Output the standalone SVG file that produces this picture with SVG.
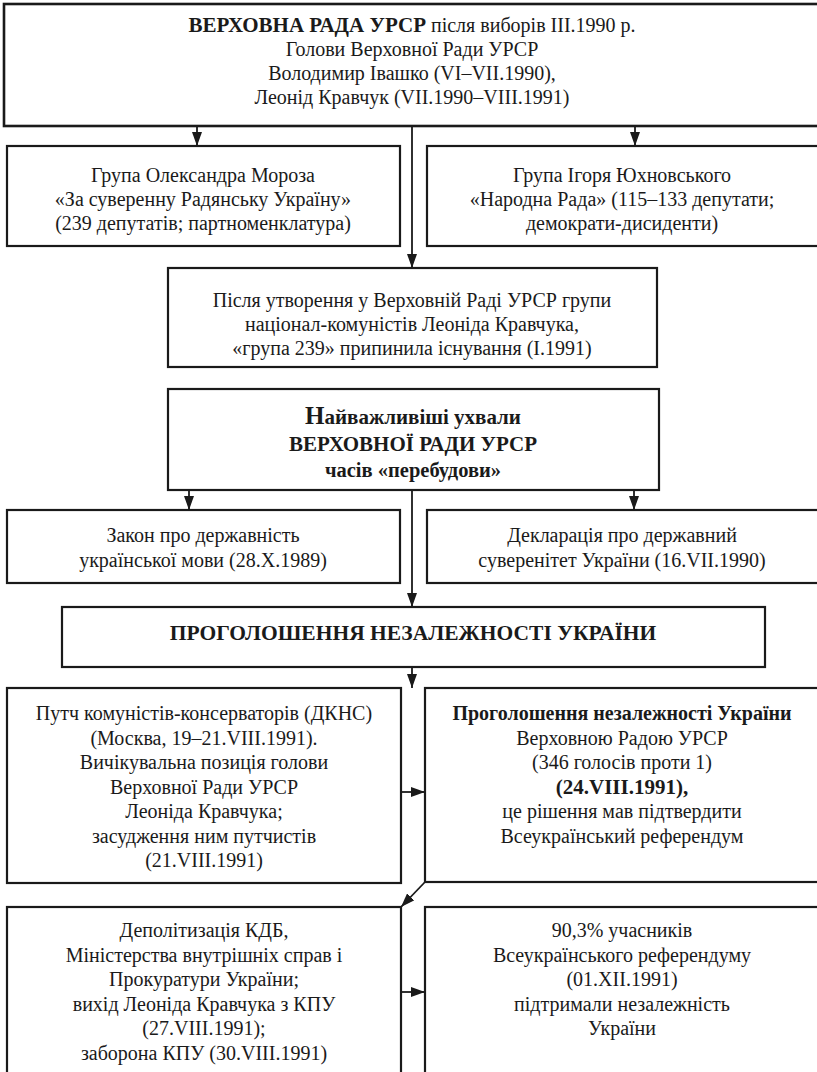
<svg xmlns="http://www.w3.org/2000/svg" width="817" height="1072" viewBox="0 0 817 1072">
<defs>
<style>
.box{fill:#fff;stroke:#1a1a1a;stroke-width:2.2}
.t{font-family:"Liberation Serif","Times New Roman",serif;font-size:20px;fill:#1a1a1a;text-anchor:middle}
.b{font-weight:bold}
.c{stroke:#1a1a1a;stroke-width:1.8;fill:none}
</style>
<marker id="ah" markerUnits="userSpaceOnUse" markerWidth="14" markerHeight="10" refX="14" refY="5" orient="auto">
<path d="M0,0 L14,5 L0,10 z" fill="#1a1a1a"/>
</marker>
</defs>
<rect width="817" height="1072" fill="#fff"/>

<g id="connectors">
<line class="c" x1="197" y1="126" x2="197" y2="146" marker-end="url(#ah)"/>
<line class="c" x1="635" y1="126" x2="635" y2="146" marker-end="url(#ah)"/>
<line class="c" x1="412" y1="126" x2="412" y2="268" marker-end="url(#ah)"/>
<line class="c" x1="189" y1="490" x2="189" y2="510" marker-end="url(#ah)"/>
<line class="c" x1="634" y1="490" x2="634" y2="510" marker-end="url(#ah)"/>
<line class="c" x1="412" y1="490" x2="412" y2="607" marker-end="url(#ah)"/>
<line class="c" x1="412" y1="667" x2="412" y2="688" marker-end="url(#ah)"/>
<line class="c" x1="401" y1="792" x2="425" y2="792" marker-end="url(#ah)"/>
<line class="c" x1="425" y1="882" x2="401" y2="907" marker-end="url(#ah)"/>
<line class="c" x1="401" y1="992" x2="425" y2="992" marker-end="url(#ah)"/>
</g>

<g id="n-top">
<rect class="box" x="4" y="4" width="830" height="122" style="stroke-width:2.6"/>
<text class="t" x="412" y="32"><tspan class="b" style="font-size:21px">ВЕРХОВНА РАДА УРСР</tspan> після виборів III.1990 р.</text>
<text class="t" x="412" y="56">Голови Верховної Ради УРСР</text>
<text class="t" x="412" y="80">Володимир Івашко (VI–VII.1990),</text>
<text class="t" x="412" y="104">Леонід Кравчук (VII.1990–VIII.1991)</text>
</g>

<g id="n-moroz">
<rect class="box" x="7" y="146" width="393" height="100"/>
<text class="t" x="203" y="182">Група Олександра Мороза</text>
<text class="t" x="203" y="206">«За суверенну Радянську Україну»</text>
<text class="t" x="203" y="230">(239 депутатів; партноменклатура)</text>
</g>

<g id="n-yukhn">
<rect class="box" x="427" y="146" width="410" height="100"/>
<text class="t" x="622" y="182">Група Ігоря Юхновського</text>
<text class="t" x="622" y="206">«Народна Рада» (115–133 депутати;</text>
<text class="t" x="622" y="230">демократи-дисиденти)</text>
</g>

<g id="n-after">
<rect class="box" x="168" y="268" width="489" height="99"/>
<text class="t" x="412" y="307">Після утворення у Верховній Раді УРСР групи</text>
<text class="t" x="412" y="331">націонал-комуністів Леоніда Кравчука,</text>
<text class="t" x="412" y="355">«група 239» припинила існування (I.1991)</text>
</g>

<g id="n-main">
<rect class="box" x="168" y="389" width="491" height="101"/>
<text class="t b" x="413" y="424" style="font-size:21px"><tspan style="font-size:25px">Н</tspan>айважливіші ухвали</text>
<text class="t b" x="413" y="451" style="font-size:21px">ВЕРХОВНОЇ РАДИ УРСР</text>
<text class="t b" x="413" y="477" style="font-size:20.5px">часів «перебудови»</text>
</g>

<g id="n-law">
<rect class="box" x="7" y="510" width="393" height="73"/>
<text class="t" x="203" y="542">Закон про державність</text>
<text class="t" x="203" y="567">української мови (28.X.1989)</text>
</g>

<g id="n-decl">
<rect class="box" x="427" y="510" width="410" height="73"/>
<text class="t" x="622" y="542">Декларація про державний</text>
<text class="t" x="622" y="567">суверенітет України (16.VII.1990)</text>
</g>

<g id="n-indep">
<rect class="box" x="62" y="607" width="703" height="60"/>
<text class="t b" x="413" y="640" style="font-size:21.5px">ПРОГОЛОШЕННЯ НЕЗАЛЕЖНОСТІ УКРАЇНИ</text>
</g>

<g id="n-putsch">
<rect class="box" x="7" y="688" width="394" height="195"/>
<text class="t" x="204" y="720">Путч комуністів-консерваторів (ДКНС)</text>
<text class="t" x="204" y="744.5">(Москва, 19–21.VIII.1991).</text>
<text class="t" x="204" y="769">Вичікувальна позиція голови</text>
<text class="t" x="204" y="793.5">Верховної Ради УРСР</text>
<text class="t" x="204" y="818">Леоніда Кравчука;</text>
<text class="t" x="204" y="842.5">засудження ним путчистів</text>
<text class="t" x="204" y="867">(21.VIII.1991)</text>
</g>

<g id="n-decl-indep">
<rect class="box" x="425" y="688" width="410" height="194"/>
<text class="t b" x="622" y="720">Проголошення незалежності України</text>
<text class="t" x="622" y="744.5">Верховною Радою УРСР</text>
<text class="t" x="622" y="769">(346 голосів проти 1)</text>
<text class="t b" x="622" y="793.5" style="font-size:21px">(24.VIII.1991),</text>
<text class="t" x="622" y="818">це рішення мав підтвердити</text>
<text class="t" x="622" y="842.5">Всеукраїнський референдум</text>
</g>

<g id="n-depol">
<rect class="box" x="7" y="907" width="394" height="180"/>
<text class="t" x="204" y="937">Деполітизація КДБ,</text>
<text class="t" x="204" y="961.5">Міністерства внутрішніх справ і</text>
<text class="t" x="204" y="986">Прокуратури України;</text>
<text class="t" x="204" y="1010.5">вихід Леоніда Кравчука з КПУ</text>
<text class="t" x="204" y="1035">(27.VIII.1991);</text>
<text class="t" x="204" y="1059.5">заборона КПУ (30.VIII.1991)</text>
</g>

<g id="n-referendum">
<rect class="box" x="425" y="907" width="410" height="180"/>
<text class="t" x="622" y="937">90,3% учасників</text>
<text class="t" x="622" y="961.5">Всеукраїнського референдуму</text>
<text class="t" x="622" y="986">(01.XII.1991)</text>
<text class="t" x="622" y="1010.5">підтримали незалежність</text>
<text class="t" x="622" y="1035">України</text>
</g>
</svg>
